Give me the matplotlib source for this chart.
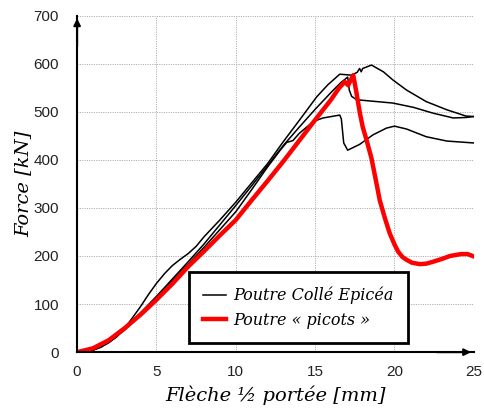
import numpy as np
import matplotlib.pyplot as plt

# courbes : fleche [mm], force [kN]
x_b1 = [0, 0.5, 1, 1.5, 2, 2.5, 3, 3.5, 4, 4.5, 5, 5.5, 6, 6.5, 7, 7.5, 8, 9, 10,
        11, 12, 13, 14, 15.1, 15.8, 16.55, 17.3, 17.65, 17.8, 17.9, 18.0, 18.55,
        19.3, 19.9, 20.76, 22, 23.3, 24.5, 25]
y_b1 = [0, 1, 4, 10, 20, 32, 50, 72, 95, 120, 143, 163, 180, 193, 205, 220, 240, 275, 312,
        352, 392, 438, 482, 531, 556, 578, 576, 582, 590, 583, 590, 597,
        583, 566, 545, 521, 504, 491, 490]

x_b2 = [0, 1, 2, 3, 4, 5, 6, 7, 8, 9, 10, 11, 12, 13, 14, 15, 16, 16.6, 17.05,
        17.15, 17.3, 17.6, 18.24, 19.9, 21.2, 22.43, 23.7, 24.5, 25]
y_b2 = [0, 5, 22, 50, 82, 116, 152, 188, 225, 265, 305, 346, 388, 430, 468, 505, 540, 560, 572,
        545, 532, 525, 523, 518, 509, 497, 487, 488, 490]

x_b3 = [0, 1, 2, 3, 4, 5, 6, 7, 8, 9, 10, 11, 12, 12.8, 13.2, 13.6, 14, 14.9, 15.5,
        16.55, 16.65, 16.8, 17.05, 17.8, 18.65, 19.5, 20, 20.76, 22.0, 23.3, 25]
y_b3 = [0, 4, 20, 46, 78, 112, 148, 183, 218, 255, 292, 338, 385, 420, 436, 440, 455, 480, 487,
        493, 485, 435, 420, 432, 452, 466, 470, 464, 448, 439, 435]

x_rouge = [0, 1, 2, 3, 4, 5, 6, 7, 8, 9, 10, 11, 12, 13, 14, 15, 16, 16.5, 16.87,
           17.08, 17.4, 17.6, 17.82, 18.0, 18.24, 18.55, 18.9, 19.07, 19.4, 19.7, 20.0,
           20.23, 20.5, 20.76, 21.1, 21.6, 22.0, 22.43, 23.0, 23.5, 24.2, 24.6, 25]
y_rouge = [0, 8, 25, 50, 78, 109, 142, 178, 210, 243, 275, 316, 356, 397, 440, 483, 525, 549, 562,
           555, 576, 540, 497, 468, 441, 403, 345, 316, 278, 247, 224,
           209, 198, 192, 186, 183, 184, 188, 194, 200, 204, 204, 199]

xticks = [0, 5, 10, 15, 20, 25]
yticks = [0, 100, 200, 300, 400, 500, 600, 700]

fig = plt.figure(figsize=(4.85, 4.09), dpi=100)
ax = fig.add_axes([0.159, 0.139, 0.818, 0.823])

ax.plot(x_b1, y_b1, color='black', lw=1.1, label='Poutre Collé Epicéa')
ax.plot(x_b2, y_b2, color='black', lw=1.1)
ax.plot(x_b3, y_b3, color='black', lw=1.1)
ax.plot(x_rouge, y_rouge, color='#ff0000', lw=3.2, label='Poutre « picots »')

ax.set_xlim(0, 25)
ax.set_ylim(0, 700)
ax.set_xticks(xticks)
ax.set_yticks(yticks)
ax.grid(True, color='#b0b0b0', ls=(0, (1.2, 1.2)), lw=0.7)
for s in ['top', 'right']:
    ax.spines[s].set_visible(False)
ax.spines['left'].set_linewidth(1.5)
ax.spines['bottom'].set_linewidth(1.5)
ax.tick_params(length=0, pad=9, labelcolor='#222222')
for lab in ax.get_xticklabels() + ax.get_yticklabels():
    lab.set_family('Liberation Sans')
    lab.set_fontsize(11)
ax.tick_params(axis='y', pad=13)

# fleches des axes
ax.annotate('', xy=(0, 1.0), xytext=(0, 0.9), xycoords='axes fraction',
            arrowprops=dict(arrowstyle='-|>', color='black', lw=1.5, mutation_scale=10))
ax.annotate('', xy=(1.0, 0), xytext=(0.9, 0), xycoords='axes fraction',
            arrowprops=dict(arrowstyle='-|>', color='black', lw=1.5, mutation_scale=10))

ax.set_xlabel('Flèche ½ portée [mm]', family='DejaVu Serif', style='italic', fontsize=14)
ax.set_ylabel('Force [kN]', family='DejaVu Serif', style='italic', fontsize=14)
ax.xaxis.set_label_coords(0.5, -0.1)
ax.yaxis.set_label_coords(-0.112, 0.5)

leg = ax.legend(loc='center', bbox_to_anchor=(0.282, 0.031, 0.552, 0.202), mode='expand',
                prop=dict(family='DejaVu Serif', style='italic', size=11.5),
                fancybox=False, framealpha=1, edgecolor='black', handlelength=1.4,
                handletextpad=0.45, labelspacing=0.45, borderpad=0.9, borderaxespad=0)
leg.get_frame().set_linewidth(2)

fig.savefig('out.png', dpi=100)
